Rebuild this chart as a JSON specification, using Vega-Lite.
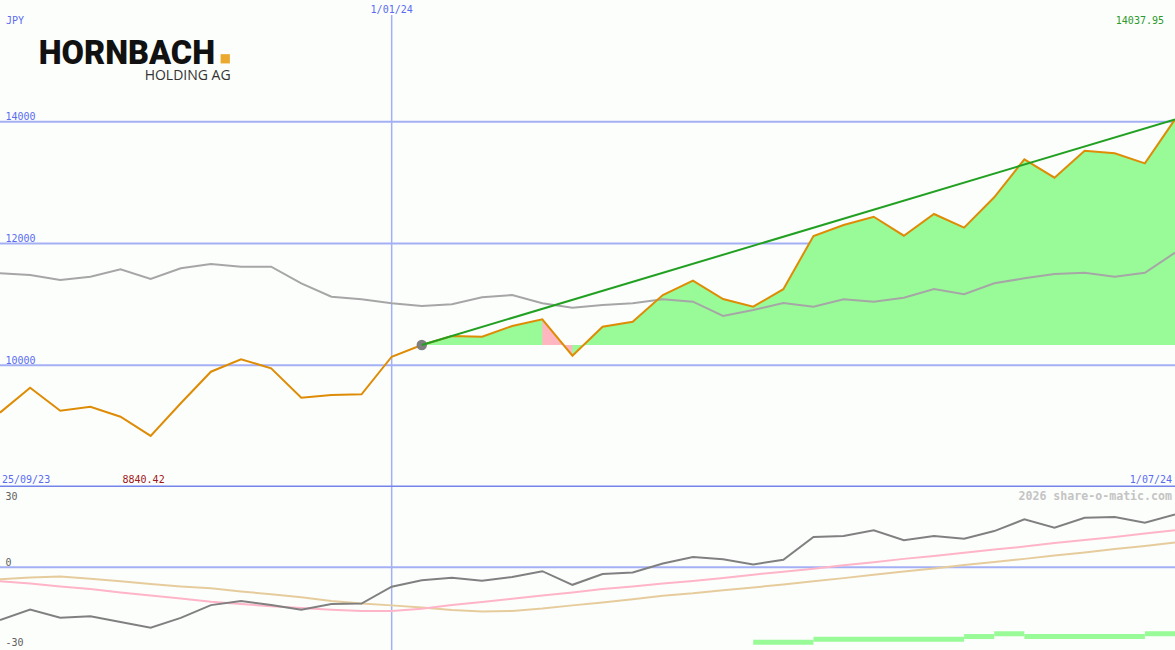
{
  "$schema": "https://vega.github.io/schema/vega-lite/v6.json",
  "background": "#fcfefc",
  "padding": 0,
  "spacing": 0,
  "bounds": "flush",
  "config": {"view": {"stroke": null}},
  "datasets": {
    "weekly": [
      {"date": "2023-10-02", "price": 9221, "benchmark": 11510, "momentum": -19.8, "signal": -5.3, "slow": -4.5},
      {"date": "2023-10-09", "price": 9631, "benchmark": 11483, "momentum": -15.9, "signal": -6.1, "slow": -3.9},
      {"date": "2023-10-16", "price": 9253, "benchmark": 11400, "momentum": -18.9, "signal": -7.2, "slow": -3.5},
      {"date": "2023-10-23", "price": 9319, "benchmark": 11455, "momentum": -18.4, "signal": -8.2, "slow": -4.3},
      {"date": "2023-10-30", "price": 9155, "benchmark": 11576, "momentum": -20.5, "signal": -9.5, "slow": -5.3},
      {"date": "2023-11-06", "price": 8840.42, "benchmark": 11417, "momentum": -22.7, "signal": -10.6, "slow": -6.3},
      {"date": "2023-11-13", "price": 9375, "benchmark": 11593, "momentum": -19.0, "signal": -11.7, "slow": -7.2},
      {"date": "2023-11-20", "price": 9894, "benchmark": 11663, "momentum": -14.2, "signal": -12.9, "slow": -7.9},
      {"date": "2023-11-27", "price": 10098, "benchmark": 11619, "momentum": -12.7, "signal": -13.8, "slow": -9.1},
      {"date": "2023-12-04", "price": 9950, "benchmark": 11619, "momentum": -14.2, "signal": -14.6, "slow": -10.1},
      {"date": "2023-12-11", "price": 9467, "benchmark": 11346, "momentum": -15.9, "signal": -15.3, "slow": -11.3},
      {"date": "2023-12-18", "price": 9511, "benchmark": 11126, "momentum": -13.8, "signal": -15.9, "slow": -12.7},
      {"date": "2023-12-25", "price": 9523, "benchmark": 11083, "momentum": -13.6, "signal": -16.4, "slow": -13.6},
      {"date": "2024-01-01", "price": 10140, "benchmark": 11018, "momentum": -7.3, "signal": -16.4, "slow": -14.3},
      {"date": "2024-01-08", "price": 10333, "benchmark": 10973, "momentum": -4.9, "signal": -15.6, "slow": -15.1},
      {"date": "2024-01-15", "price": 10481, "benchmark": 11001, "momentum": -4.0, "signal": -14.2, "slow": -16.0},
      {"date": "2024-01-22", "price": 10469, "benchmark": 11116, "momentum": -5.1, "signal": -13.0, "slow": -16.6},
      {"date": "2024-01-29", "price": 10645, "benchmark": 11154, "momentum": -3.7, "signal": -11.8, "slow": -16.4},
      {"date": "2024-02-05", "price": 10755, "benchmark": 11018, "momentum": -1.5, "signal": -10.6, "slow": -15.5},
      {"date": "2024-02-12", "price": 10157, "benchmark": 10945, "momentum": -6.6, "signal": -9.5, "slow": -14.3},
      {"date": "2024-02-19", "price": 10633, "benchmark": 10990, "momentum": -2.6, "signal": -8.2, "slow": -13.2},
      {"date": "2024-02-26", "price": 10715, "benchmark": 11018, "momentum": -2.0, "signal": -7.2, "slow": -12.0},
      {"date": "2024-03-04", "price": 11154, "benchmark": 11083, "momentum": 1.4, "signal": -6.1, "slow": -10.7},
      {"date": "2024-03-11", "price": 11389, "benchmark": 11044, "momentum": 3.8, "signal": -5.2, "slow": -9.8},
      {"date": "2024-03-18", "price": 11088, "benchmark": 10809, "momentum": 3.0, "signal": -4.1, "slow": -8.6},
      {"date": "2024-03-25", "price": 10962, "benchmark": 10908, "momentum": 1.0, "signal": -2.8, "slow": -7.6},
      {"date": "2024-04-01", "price": 11249, "benchmark": 11023, "momentum": 2.8, "signal": -1.7, "slow": -6.5},
      {"date": "2024-04-08", "price": 12123, "benchmark": 10962, "momentum": 11.3, "signal": -0.6, "slow": -5.3},
      {"date": "2024-04-15", "price": 12304, "benchmark": 11083, "momentum": 11.7, "signal": 0.7, "slow": -4.1},
      {"date": "2024-04-22", "price": 12440, "benchmark": 11044, "momentum": 13.8, "signal": 1.8, "slow": -2.8},
      {"date": "2024-04-29", "price": 12128, "benchmark": 11110, "momentum": 10.1, "signal": 3.1, "slow": -1.6},
      {"date": "2024-05-06", "price": 12485, "benchmark": 11253, "momentum": 11.7, "signal": 4.2, "slow": -0.5},
      {"date": "2024-05-13", "price": 12260, "benchmark": 11166, "momentum": 10.6, "signal": 5.4, "slow": 0.8},
      {"date": "2024-05-20", "price": 12759, "benchmark": 11346, "momentum": 13.5, "signal": 6.6, "slow": 1.9},
      {"date": "2024-05-27", "price": 13383, "benchmark": 11428, "momentum": 17.9, "signal": 7.7, "slow": 3.1},
      {"date": "2024-06-03", "price": 13081, "benchmark": 11499, "momentum": 14.8, "signal": 9.0, "slow": 4.4},
      {"date": "2024-06-10", "price": 13524, "benchmark": 11520, "momentum": 18.5, "signal": 10.2, "slow": 5.5},
      {"date": "2024-06-17", "price": 13482, "benchmark": 11455, "momentum": 18.8, "signal": 11.3, "slow": 6.8},
      {"date": "2024-06-24", "price": 13317, "benchmark": 11520, "momentum": 16.6, "signal": 12.6, "slow": 7.9},
      {"date": "2024-07-01", "price": 14037.95, "benchmark": 11849, "momentum": 19.7, "signal": 13.8, "slow": 9.2}
    ],
    "levels": [{"level": 10000}, {"level": 12000}, {"level": 14000}],
    "bars": [
      {"start": "2024-03-25", "end": "2024-04-08", "volume": 1},
      {"start": "2024-04-08", "end": "2024-05-13", "volume": 2},
      {"start": "2024-05-13", "end": "2024-05-20", "volume": 3},
      {"start": "2024-05-20", "end": "2024-05-27", "volume": 4},
      {"start": "2024-05-27", "end": "2024-06-24", "volume": 3},
      {"start": "2024-06-24", "end": "2024-07-01", "volume": 4}
    ]
  },
  "vconcat": [
    {
      "width": 1175,
      "height": 487,
      "data": {"name": "weekly"},
      "encoding": {
        "x": {
          "field": "date", "type": "temporal",
          "scale": {"type": "utc", "nice": false, "domain": [1696204800000, 1719792000000]},
          "axis": null
        }
      },
      "layer": [
        {
          "data": {"name": "levels"},
          "mark": {"type": "rule", "color": "#a4b0f4", "strokeWidth": 2, "clip": true},
          "encoding": {
            "x": {"value": 0},
            "x2": {"value": 1175},
            "y": {
              "field": "level", "type": "quantitative",
              "scale": {"domain": [8000, 16000], "nice": false, "zero": false},
              "axis": {"values": [10000, 12000, 14000], "labelExpr": "'' + datum.value", "grid": false, "domain": false, "ticks": false, "tickSize": 0, "labelAlign": "left", "labelBaseline": "bottom", "labelPadding": -5, "labelFont": "DejaVu Sans Mono", "labelFontSize": 10, "labelColor": "#5a6cf0", "title": null, "labelFlush": false, "labelOverlap": false, "labelBound": false}
            }
          }
        },
        {
          "transform": [{"filter": "time(datum.date) >= utc(2024,0,8)"}],
          "mark": {"type": "area", "color": "#98fb98", "opacity": 1, "clip": true},
          "encoding": {
            "y": {"field": "price", "type": "quantitative"},
            "y2": {"datum": 10333}
          }
        },
        {
          "transform": [{"filter": "time(datum.date) >= utc(2024,1,5) && time(datum.date) <= utc(2024,1,12)"}],
          "mark": {"type": "area", "color": "#ffb6c1", "opacity": 1, "clip": true},
          "encoding": {
            "y": {"field": "price", "type": "quantitative"},
            "y2": {"datum": 10333}
          }
        },
        {
          "data": {"values": [{"date": "2024-01-01", "marker": "year start"}]},
          "mark": {"type": "rule", "color": "#a4b0f4", "strokeWidth": 1.5, "clip": true},
          "encoding": {
            "y": {"datum": 15754, "type": "quantitative"},
            "y2": {"datum": 8000}
          }
        },
        {
          "data": {"values": [{"marker": "panel separator"}]},
          "mark": {"type": "rule", "color": "#7484ea", "strokeWidth": 2, "clip": true},
          "encoding": {
            "x": {"value": 0},
            "x2": {"value": 1175},
            "y": {"datum": 8008, "type": "quantitative"}
          }
        },
        {
          "mark": {"type": "line", "color": "#a6a6a6", "strokeWidth": 2, "clip": true},
          "encoding": {"y": {"field": "benchmark", "type": "quantitative"}}
        },
        {
          "mark": {"type": "line", "color": "#de8c06", "strokeWidth": 2, "clip": true},
          "encoding": {"y": {"field": "price", "type": "quantitative"}}
        },
        {
          "data": {"values": [{"date": "2024-01-08", "marker": "trend start"}]},
          "mark": {"type": "point", "filled": true, "color": "#7f7f7f", "opacity": 1, "size": 110},
          "encoding": {
            "y": {"datum": 10333, "type": "quantitative"}
          }
        },
        {
          "data": {"values": [{"date": "2024-01-08", "end": "2024-07-01", "marker": "trend"}]},
          "mark": {"type": "rule", "color": "#22a022", "strokeWidth": 2, "clip": true},
          "encoding": {
            "x2": {"field": "end"},
            "y": {"datum": 10333, "type": "quantitative"},
            "y2": {"datum": 14037.95}
          }
        },
        {
          "data": {"values": [{"date": "2023-10-02", "label": "JPY"}]},
          "mark": {"type": "text", "font": "DejaVu Sans Mono", "fontSize": 10, "color": "#5a6cf0", "align": "left", "baseline": "alphabetic", "dx": 6},
          "encoding": {
            "text": {"field": "label"},
            "y": {"datum": 15598, "type": "quantitative"}
          }
        },
        {
          "data": {"values": [{"date": "2024-01-01", "label": "1/01/24"}]},
          "mark": {"type": "text", "font": "DejaVu Sans Mono", "fontSize": 10, "color": "#5a6cf0", "align": "center", "baseline": "alphabetic"},
          "encoding": {
            "text": {"field": "label"},
            "y": {"datum": 15786, "type": "quantitative"}
          }
        },
        {
          "data": {"values": [{"date": "2024-07-01", "label": "14037.95"}]},
          "mark": {"type": "text", "font": "DejaVu Sans Mono", "fontSize": 10, "color": "#2a9a2a", "align": "right", "baseline": "alphabetic", "dx": -11},
          "encoding": {
            "text": {"field": "label"},
            "y": {"datum": 15598, "type": "quantitative"}
          }
        },
        {
          "data": {"values": [{"date": "2023-10-02", "label": "25/09/23"}]},
          "mark": {"type": "text", "font": "DejaVu Sans Mono", "fontSize": 10, "color": "#5a6cf0", "align": "left", "baseline": "alphabetic", "dx": 2},
          "encoding": {
            "text": {"field": "label"},
            "y": {"datum": 8061, "type": "quantitative"}
          }
        },
        {
          "data": {"values": [{"date": "2023-10-30", "label": "8840.42"}]},
          "mark": {"type": "text", "font": "DejaVu Sans Mono", "fontSize": 10, "color": "#a01818", "align": "left", "baseline": "alphabetic", "dx": 2},
          "encoding": {
            "text": {"field": "label"},
            "y": {"datum": 8061, "type": "quantitative"}
          }
        },
        {
          "data": {"values": [{"date": "2024-07-01", "label": "1/07/24"}]},
          "mark": {"type": "text", "font": "DejaVu Sans Mono", "fontSize": 10, "color": "#5a6cf0", "align": "right", "baseline": "alphabetic", "dx": -3},
          "encoding": {
            "text": {"field": "label"},
            "y": {"datum": 8061, "type": "quantitative"}
          }
        },
        {
          "data": {"values": [{"date": "2023-10-11", "label": "HORNBACH"}]},
          "mark": {"type": "text", "font": "Roboto", "fontWeight": 900, "fontSize": 32.5, "color": "#111111", "align": "left", "baseline": "alphabetic"},
          "encoding": {
            "text": {"field": "label"},
            "y": {"datum": 14949, "type": "quantitative"}
          }
        },
        {
          "data": {"values": [{"date": "2023-11-23T08:00:00Z", "marker": "logo square"}]},
          "mark": {"type": "point", "shape": "square", "filled": true, "color": "#eba92f", "opacity": 1, "size": 86, "strokeWidth": 0},
          "encoding": {
            "y": {"datum": 15034, "type": "quantitative"}
          }
        },
        {
          "data": {"values": [{"date": "2023-11-24T14:00:00Z", "label": "HOLDING AG"}]},
          "mark": {"type": "text", "font": "Open Sans", "fontSize": 14, "color": "#333333", "align": "right", "baseline": "alphabetic"},
          "encoding": {
            "text": {"field": "label"},
            "y": {"datum": 14690, "type": "quantitative"}
          }
        }
      ]
    },
    {
      "width": 1175,
      "height": 163,
      "layer": [
        {
          "data": {"name": "weekly"},
          "encoding": {
            "x": {
              "field": "date", "type": "temporal",
              "scale": {"type": "utc", "nice": false, "domain": [1696204800000, 1719792000000]},
              "axis": null
            }
          },
          "layer": [
            {
              "data": {"values": [{"date": "2024-01-01", "marker": "year start"}]},
              "mark": {"type": "rule", "color": "#a4b0f4", "strokeWidth": 1.5, "clip": true}
            },
            {
              "data": {"values": [{"marker": "zero"}]},
              "mark": {"type": "rule", "color": "#a4b0f4", "strokeWidth": 2, "clip": true},
              "encoding": {
                "x": {"value": 0},
                "x2": {"value": 1175},
                "y": {"datum": 0, "type": "quantitative"}
              }
            },
            {
              "mark": {"type": "line", "color": "#e6cc9c", "strokeWidth": 2, "clip": true},
              "encoding": {
                "y": {
                  "field": "slow", "type": "quantitative",
                  "scale": {"domain": [-31, 30], "nice": false, "zero": false},
                  "axis": {"values": [-30, 0, 30], "labelExpr": "'' + datum.value", "grid": false, "domain": false, "ticks": false, "tickSize": 0, "labelAlign": "left", "labelBaseline": "bottom", "labelPadding": -5, "labelOffset": {"condition": {"test": "datum.value === 30", "value": 14}, "value": 0}, "labelFont": "DejaVu Sans Mono", "labelFontSize": 10, "labelColor": "#606060", "title": null, "labelFlush": false, "labelOverlap": false, "labelBound": false}
                }
              }
            },
            {
              "mark": {"type": "line", "color": "#ffb4c8", "strokeWidth": 2, "clip": true},
              "encoding": {"y": {"field": "signal", "type": "quantitative"}}
            },
            {
              "mark": {"type": "line", "color": "#808080", "strokeWidth": 2, "clip": true},
              "encoding": {"y": {"field": "momentum", "type": "quantitative"}}
            },
            {
              "data": {"values": [{"date": "2024-07-01", "label": "2026 share-o-matic.com"}]},
              "mark": {"type": "text", "font": "DejaVu Sans Mono", "fontWeight": "bold", "fontSize": 11.6, "color": "#c4c4c4", "align": "right", "baseline": "alphabetic", "dx": -3},
              "encoding": {
                "text": {"field": "label"},
                "y": {"datum": 25.1, "type": "quantitative"}
              }
            }
          ]
        },
        {
          "data": {"name": "bars"},
          "mark": {"type": "bar", "color": "#98fb98", "clip": true},
          "encoding": {
            "x": {
              "field": "start", "type": "temporal",
              "scale": {"type": "utc", "nice": false, "domain": [1696204800000, 1719792000000]},
              "axis": null
            },
            "x2": {"field": "end"},
            "y": {"field": "volume", "type": "quantitative", "scale": {"domain": [0, 54.3], "nice": false, "zero": true}, "axis": null}
          }
        }
      ],
      "resolve": {"scale": {"y": "independent"}}
    }
  ]
}
